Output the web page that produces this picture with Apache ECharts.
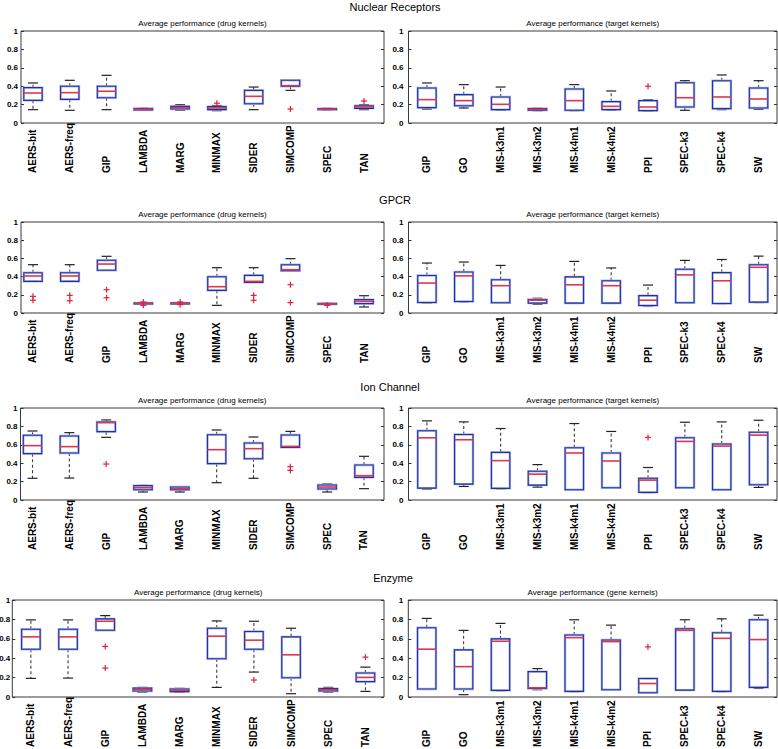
<!DOCTYPE html>
<html><head><meta charset="utf-8">
<script src="https://cdn.jsdelivr.net/npm/echarts@6/dist/echarts.min.js"></script>
<style>html,body{margin:0;padding:0;background:#fff}#c{width:778px;height:749px}</style>
</head><body><div id="c"></div>
<script>
// ---------- DATA ----------
const drugKernels = ['AERS-bit','AERS-freq','GIP','LAMBDA','MARG','MINMAX','SIDER','SIMCOMP','SPEC','TAN'];
const targetKernels = ['GIP','GO','MIS-k3m1','MIS-k3m2','MIS-k4m1','MIS-k4m2','PPI','SPEC-k3','SPEC-k4','SW'];
const yTicks = [0, 0.2, 0.4, 0.6, 0.8, 1];
const sectionTitles = ['Nuclear Receptors', 'GPCR', 'Ion Channel', 'Enzyme'];
const subTitles = ['Average performance (drug kernels)', 'Average performance (target kernels)', 'Average performance (gene kernels)'];

// each box: [min, Q1, median, Q3, max]
const nrDrugBoxes = [[0.145,0.246,0.326,0.384,0.435],[0.138,0.257,0.330,0.399,0.464],[0.145,0.275,0.345,0.399,0.518],[0.138,0.142,0.150,0.158,0.163],[0.140,0.152,0.167,0.181,0.198],[0.134,0.145,0.163,0.178,0.190],[0.145,0.210,0.290,0.355,0.391],[0.355,0.399,0.406,0.464,0.464],[0.140,0.145,0.150,0.156,0.160],[0.145,0.159,0.174,0.188,0.200]];
const nrDrugOutliers = [['MINMAX',0.215],['SIMCOMP',0.152],['TAN',0.239]];
const nrTargetBoxes = [[0.152,0.167,0.254,0.380,0.435],[0.163,0.188,0.243,0.308,0.417],[0.138,0.145,0.203,0.283,0.391],[0.134,0.140,0.148,0.156,0.160],[0.134,0.138,0.243,0.370,0.417],[0.138,0.145,0.181,0.232,0.348],[0.130,0.134,0.174,0.243,0.254],[0.138,0.174,0.275,0.438,0.460],[0.145,0.156,0.283,0.460,0.522],[0.149,0.163,0.261,0.380,0.460]];
const nrTargetOutliers = [['PPI',0.399]];

const gpcrDrugBoxes = [[0.348,0.348,0.407,0.443,0.531],[0.348,0.348,0.407,0.443,0.531],[0.469,0.469,0.538,0.579,0.623],[0.095,0.100,0.105,0.110,0.115],[0.095,0.100,0.105,0.110,0.115],[0.084,0.249,0.289,0.399,0.498],[0.337,0.337,0.348,0.414,0.498],[0.465,0.465,0.476,0.531,0.597],[0.095,0.097,0.100,0.105,0.108],[0.066,0.103,0.128,0.147,0.190]];
const gpcrDrugOutliers = [['AERS-bit',0.183],['AERS-bit',0.140],['AERS-freq',0.194],['AERS-freq',0.135],['GIP',0.256],['GIP',0.168],['LAMBDA',0.121],['LAMBDA',0.084],['MARG',0.121],['MARG',0.092],['SIDER',0.194],['SIDER',0.140],['SIMCOMP',0.311],['SIMCOMP',0.114],['SPEC',0.084]];
const gpcrTargetBoxes = [[0.108,0.116,0.329,0.412,0.549],[0.120,0.126,0.408,0.451,0.560],[0.108,0.112,0.300,0.365,0.523],[0.097,0.108,0.141,0.148,0.162],[0.105,0.108,0.310,0.397,0.567],[0.105,0.108,0.300,0.354,0.495],[0.072,0.083,0.141,0.191,0.307],[0.108,0.112,0.419,0.480,0.578],[0.102,0.105,0.354,0.444,0.588],[0.115,0.119,0.502,0.531,0.625]];
const gpcrTargetOutliers = [];

const ionDrugBoxes = [[0.236,0.504,0.591,0.703,0.750],[0.239,0.511,0.580,0.696,0.732],[0.681,0.743,0.841,0.848,0.870],[0.087,0.112,0.134,0.156,0.159],[0.087,0.112,0.123,0.141,0.145],[0.188,0.395,0.547,0.710,0.761],[0.236,0.449,0.558,0.620,0.685],[0.572,0.572,0.583,0.707,0.746],[0.087,0.120,0.141,0.163,0.174],[0.123,0.246,0.264,0.380,0.475]];
const ionDrugOutliers = [['GIP',0.391],['SIMCOMP',0.362],['SIMCOMP',0.322]];
const ionTargetBoxes = [[0.119,0.129,0.676,0.752,0.860],[0.147,0.173,0.655,0.712,0.849],[0.122,0.126,0.428,0.518,0.777],[0.140,0.162,0.281,0.313,0.385],[0.108,0.112,0.511,0.568,0.831],[0.129,0.133,0.424,0.511,0.745],[0.080,0.083,0.216,0.237,0.353],[0.129,0.133,0.637,0.676,0.845],[0.108,0.112,0.586,0.608,0.849],[0.137,0.165,0.705,0.737,0.867]];
const ionTargetOutliers = [['PPI',0.680]];

const enzDrugBoxes = [[0.192,0.493,0.620,0.699,0.795],[0.195,0.493,0.620,0.699,0.795],[0.688,0.688,0.781,0.805,0.839],[0.051,0.062,0.079,0.092,0.099],[0.048,0.055,0.068,0.082,0.089],[0.099,0.394,0.627,0.709,0.784],[0.257,0.493,0.586,0.675,0.781],[0.034,0.199,0.435,0.620,0.709],[0.051,0.062,0.075,0.086,0.099],[0.058,0.158,0.202,0.247,0.308]];
const enzDrugOutliers = [['GIP',0.521],['GIP',0.298],['SIDER',0.175],['TAN',0.411]];
const enzGeneBoxes = [[0.078,0.082,0.493,0.714,0.810],[0.024,0.082,0.313,0.486,0.687],[0.065,0.068,0.575,0.599,0.759],[0.075,0.088,0.095,0.262,0.293],[0.055,0.058,0.612,0.639,0.796],[0.070,0.075,0.571,0.588,0.741],[0.044,0.044,0.139,0.190,0.190],[0.068,0.071,0.687,0.704,0.796],[0.055,0.058,0.605,0.663,0.806],[0.088,0.099,0.592,0.796,0.844]];
const enzGeneOutliers = [['PPI',0.517]];

// ---------- LAYOUT ----------
const FONT = '"Liberation Sans", Arial, Helvetica, sans-serif';
const rowTop = [31, 222, 408, 600];
const rowHeight = [92, 91, 92, 97];
const titleY = [7, 200, 387, 578];
const titleX = [395, 395, 390, 393];
const panels = [
  {row:0, cats:drugKernels, boxes:nrDrugBoxes, out:nrDrugOutliers, sub:subTitles[0], x0:21, x1:384, xr:[0.674,10.543], lm:3},
  {row:0, cats:targetKernels, boxes:nrTargetBoxes, out:nrTargetOutliers, sub:subTitles[1], x0:408.5, x1:777, xr:[0.5,10.5], lm:5},
  {row:1, cats:drugKernels, boxes:gpcrDrugBoxes, out:gpcrDrugOutliers, sub:subTitles[0], x0:21, x1:384, xr:[0.674,10.543], lm:3},
  {row:1, cats:targetKernels, boxes:gpcrTargetBoxes, out:gpcrTargetOutliers, sub:subTitles[1], x0:408.5, x1:777, xr:[0.5,10.5], lm:5},
  {row:2, cats:drugKernels, boxes:ionDrugBoxes, out:ionDrugOutliers, sub:subTitles[0], x0:20.5, x1:384, xr:[0.674,10.543], lm:3},
  {row:2, cats:targetKernels, boxes:ionTargetBoxes, out:ionTargetOutliers, sub:subTitles[1], x0:408.5, x1:777, xr:[0.5,10.5], lm:5},
  {row:3, cats:drugKernels, boxes:enzDrugBoxes, out:enzDrugOutliers, sub:subTitles[0], x0:12.3, x1:384, xr:[0.5,10.5], lm:2},
  {row:3, cats:targetKernels, boxes:enzGeneBoxes, out:enzGeneOutliers, sub:subTitles[2], x0:408.3, x1:777, xr:[0.5,10.5], lm:5}
];

const BOX_DARK = '#23319c', BOX_LIGHT = '#a9b7ee';
const MED = '#de3550', WHISK = '#3a3a3a', OUT = '#e0203c';

function renderBox(params, api) {
  const x = api.value(0);
  const pMin = api.coord([x, api.value(1)]);
  const pQ1 = api.coord([x, api.value(2)]);
  const pMed = api.coord([x, api.value(3)]);
  const pQ3 = api.coord([x, api.value(4)]);
  const pMax = api.coord([x, api.value(5)]);
  const unit = api.size([1, 0])[0];
  const hb = unit * 0.25, hc = unit * 0.135;
  const cx = pMed[0];
  const ch = [];
  ch.push({type:'line', shape:{x1:cx,y1:pQ3[1],x2:cx,y2:pMax[1]}, style:{stroke:WHISK,lineWidth:1.1,lineDash:[3,2.5]}});
  ch.push({type:'line', shape:{x1:cx,y1:pQ1[1],x2:cx,y2:pMin[1]}, style:{stroke:WHISK,lineWidth:1.1,lineDash:[3,2.5]}});
  ch.push({type:'line', shape:{x1:cx-hc,y1:pMax[1],x2:cx+hc,y2:pMax[1]}, style:{stroke:'#222',lineWidth:1.2}});
  ch.push({type:'line', shape:{x1:cx-hc,y1:pMin[1],x2:cx+hc,y2:pMin[1]}, style:{stroke:'#222',lineWidth:1.2}});
  const rect = {x:cx-hb, y:pQ3[1], width:2*hb, height:Math.max(pQ1[1]-pQ3[1], 0.5)};
  ch.push({type:'rect', shape:rect, style:{fill:'none',stroke:BOX_LIGHT,lineWidth:2.4}});
  ch.push({type:'rect', shape:rect, style:{fill:'none',stroke:BOX_DARK,lineWidth:1.1}});
  ch.push({type:'line', shape:{x1:cx-hb,y1:pMed[1],x2:cx+hb,y2:pMed[1]}, style:{stroke:MED,lineWidth:1.6}});
  return {type:'group', children:ch};
}
function renderPlus(params, api) {
  const p = api.coord([api.value(0), api.value(1)]);
  const s = 3;
  return {type:'group', children:[
    {type:'line', shape:{x1:p[0]-s,y1:p[1],x2:p[0]+s,y2:p[1]}, style:{stroke:OUT,lineWidth:1.2}},
    {type:'line', shape:{x1:p[0],y1:p[1]-s,x2:p[0],y2:p[1]+s}, style:{stroke:OUT,lineWidth:1.2}}
  ]};
}

const grid = [], xAxis = [], yAxis = [], series = [], title = [];
sectionTitles.forEach((t, r) => {
  title.push({text:t, left:titleX[r], top:titleY[r], textAlign:'center', textVerticalAlign:'middle', padding:0,
    textStyle:{fontFamily:FONT, fontSize:11, fontWeight:'normal', color:'#000'}});
});
panels.forEach((p, i) => {
  const top = rowTop[p.row], h = rowHeight[p.row];
  grid.push({left:p.x0, top:top, width:p.x1-p.x0, height:h, show:true, borderColor:'#3a3a3a', borderWidth:1,
    backgroundColor:'transparent', containLabel:false, outerBoundsMode:'none'});
  title.push({text:p.sub, left:(p.x0+p.x1)/2, top:top-8, textAlign:'center', textVerticalAlign:'middle', padding:0,
    textStyle:{fontFamily:FONT, fontSize:8, fontWeight:'normal', color:'#000'}});
  const cats = p.cats;
  xAxis.push({type:'value', gridIndex:i, min:p.xr[0], max:p.xr[1],
    axisLine:{show:false}, axisTick:{show:false}, splitLine:{show:false},
    axisLabel:{customValues:cats.map((c, k) => k + 1), formatter:v => cats[Math.round(v) - 1] || '',
      rotate:90, align:'left', verticalAlign:'middle', margin:50, hideOverlap:false,
      fontFamily:FONT, fontSize:10, fontWeight:'bold', color:'#000'}});
  yAxis.push({type:'value', gridIndex:i, min:0, max:1, interval:0.2, position:'left',
    axisLine:{show:false}, splitLine:{show:false},
    axisTick:{show:true, inside:true, length:3, lineStyle:{color:'#333'}, customValues:yTicks},
    axisLabel:{customValues:yTicks, formatter:v => (Math.abs(v) < 1e-9 ? '0' : Math.abs(v-1) < 1e-9 ? '1' : v.toFixed(1)),
      margin:p.lm, fontFamily:FONT, fontSize:8, fontWeight:'bold', color:'#000', hideOverlap:false}});
  yAxis.push({type:'value', gridIndex:i, min:0, max:1, interval:0.2, position:'right',
    axisLine:{show:false}, splitLine:{show:false}, axisLabel:{show:false},
    axisTick:{show:true, inside:true, length:3, lineStyle:{color:'#333'}, customValues:yTicks}});
  series.push({type:'custom', xAxisIndex:i, yAxisIndex:2*i, renderItem:renderBox, clip:false,
    encode:{x:0, y:[1,2,3,4,5]}, silent:true,
    data:p.boxes.map((b, k) => [k + 1].concat(b))});
  series.push({type:'custom', xAxisIndex:i, yAxisIndex:2*i, renderItem:renderPlus, clip:false,
    encode:{x:0, y:1}, silent:true,
    data:p.out.map(o => [cats.indexOf(o[0]) + 1, o[1]])});
});

const chart = echarts.init(document.getElementById('c'), null, {renderer:'svg', width:778, height:749});
chart.setOption({animation:false, backgroundColor:'#fff', title, grid, xAxis, yAxis, series});
</script>
</body></html>
